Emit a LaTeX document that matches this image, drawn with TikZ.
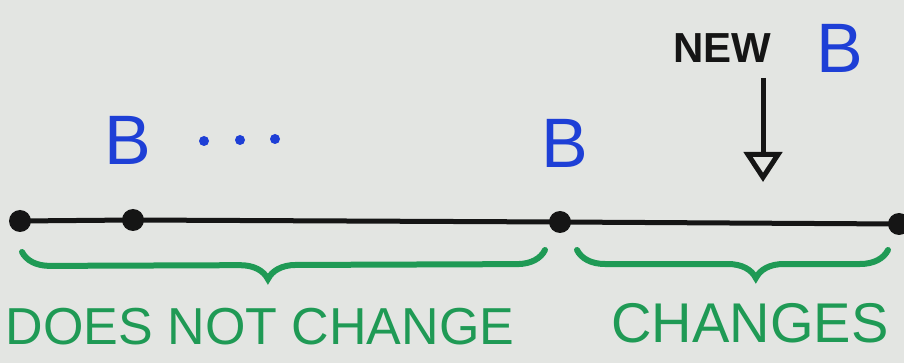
\documentclass[tikz,border=0pt]{standalone}
\usepackage{fontspec}
\setmainfont{Liberation Sans}
\usetikzlibrary{decorations.pathreplacing,arrows.meta}
\definecolor{bgc}{HTML}{E3E5E2}
\definecolor{penblue}{HTML}{1E3FD6}
\definecolor{pengreen}{HTML}{1F9A55}
\definecolor{penblack}{HTML}{151515}
\tikzset{
  dot/.style={circle,fill=penblack,inner sep=0pt,minimum size=22pt},
  smalldot/.style={circle,fill=penblue,inner sep=0pt,minimum size=10pt},
  bigB/.style={text=penblue,font=\fontsize{70}{70}\selectfont,inner sep=0pt},
  timeline/.style={draw=penblack,line width=5pt,line cap=round},
  greenbrace/.style={draw=pengreen,line width=6pt,line cap=round,decorate},
  greentext/.style={text=pengreen,font=\fontsize{52}{52}\selectfont,inner sep=0pt},
  newlabel/.style={text=penblack,font=\bfseries\fontsize{42}{42}\selectfont,inner sep=0pt},
  pointer/.style={draw=penblack,line width=5pt,-{Triangle[open,length=30pt,width=38pt,line width=5pt]}}
}
\begin{document}
\begin{tikzpicture}[x=1pt,y=-1pt]
\fill[bgc] (0,0) rectangle (904,363);
\useasboundingbox (0,0) rectangle (904,363);
% timeline
\node[dot] (d1) at (20,221) {};
\node[dot] (d2) at (133,220) {};
\node[dot] (d3) at (560,222) {};
\node[dot] (d4) at (899,224) {};
\draw[timeline] (d1.center) -- (d2.center) -- (d3.center) -- (d4.center);
% labels
\node[bigB] (b1) at (128,140) {B};
\node[smalldot] (e1) at (204,141) {};
\node[smalldot] (e2) at (240,140) {};
\node[smalldot] (e3) at (275,139) {};
\node[bigB] (b2) at (565,143) {B};
\node[newlabel] (new) at (722,48) {NEW};
\node[bigB] (b3) at (840,48) {B};
% arrow
\coordinate (a1) at (763,78);
\coordinate (a2) at (763,182);
\draw[pointer] (a1) -- (a2);
% braces
\coordinate (l1) at (22,252);
\coordinate (l2) at (545,250);
\coordinate (r1) at (577,250);
\coordinate (r2) at (888,250);
\draw[greenbrace,decoration={brace,mirror,amplitude=28pt,aspect=0.47}] (l1) -- (l2);
\draw[greenbrace,decoration={brace,mirror,amplitude=28pt,aspect=0.575}] (r1) -- (r2);
\node[greentext] (t1) at (260,327) {DOES NOT CHANGE};
\node[greentext,font=\fontsize{56}{56}\selectfont] (t2) at (750,323) {CHANGES};
\end{tikzpicture}
\end{document}
